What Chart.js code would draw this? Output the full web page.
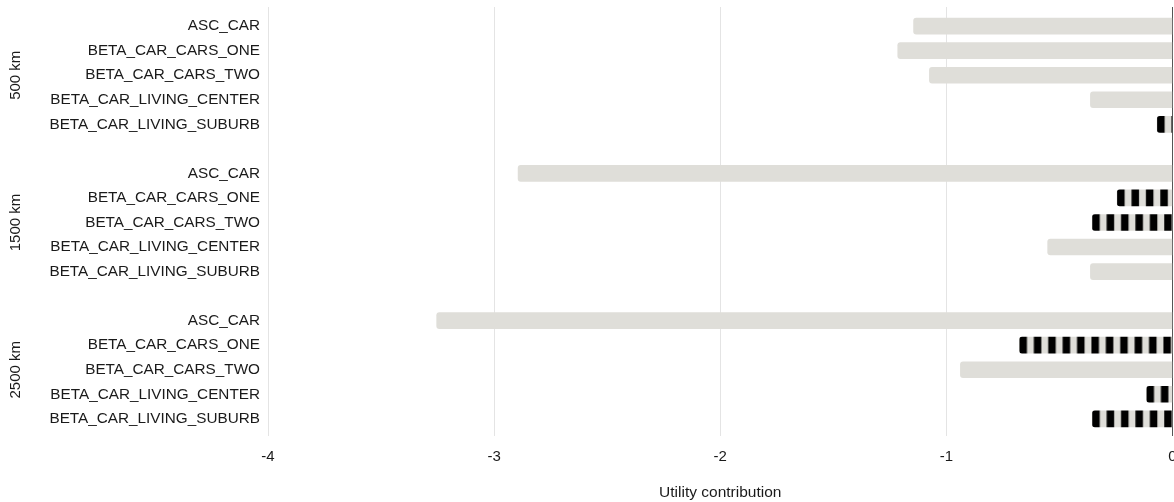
<!DOCTYPE html>
<html>
<head>
<meta charset="utf-8">
<script src="https://cdn.jsdelivr.net/npm/chart.js@4.4.1/dist/chart.umd.min.js"></script>
<style>
  html, body { margin: 0; padding: 0; background: #fff; overflow: hidden; }
  #wrap { width: 1174px; height: 502px; }
</style>
</head>
<body>
<div id="wrap"><canvas id="utilChart" width="1174" height="502"></canvas></div>
<script>
const groups = ['500 km', '1500 km', '2500 km'];
const parameters = ['ASC_CAR', 'BETA_CAR_CARS_ONE', 'BETA_CAR_CARS_TWO', 'BETA_CAR_LIVING_CENTER', 'BETA_CAR_LIVING_SUBURB'];
const contrib500 = [-1.145, -1.215, -1.075, -0.363, -0.068];
const contrib1500 = [-2.894, -0.245, -0.355, -0.552, -0.363];
const contrib2500 = [-3.254, -0.677, -0.938, -0.115, -0.355];
const hatched500 = [false, false, false, false, true];
const hatched1500 = [false, true, true, false, false];
const hatched2500 = [false, true, false, true, true];
const xTicks = [-4, -3, -2, -1, 0];

const barGray = '#dfded9';
const contribs = [contrib500, contrib1500, contrib2500];
const hatched = [hatched500, hatched1500, hatched2500];
const rowsPerGroup = parameters.length + 1; // one empty row between groups

const points = [];
const pointHatched = [];
const rowLabels = {};
contribs.forEach((vals, g) => {
    vals.forEach((v, i) => {
        const row = g * rowsPerGroup + i;
        points.push({ x: v, y: row });
        pointHatched.push(hatched[g][i]);
        rowLabels[row] = parameters[i];
    });
});
const lastRow = (groups.length - 1) * rowsPerGroup + parameters.length - 1;

// black stripes, started at the left end of each bar
const patternCache = {};
function stripes(chart, value) {
    const left = chart.scales.x.getPixelForValue(value);
    const key = left.toFixed(2);
    if (patternCache[key]) return patternCache[key];
    const pc = document.createElement('canvas');
    pc.width = 72;
    pc.height = 4;
    const p = pc.getContext('2d');
    p.fillStyle = barGray;
    p.fillRect(0, 0, 72, 4);
    p.fillStyle = '#000';
    for (let k = 0; k < 5; k++) p.fillRect(k * 14.4, 0, 7.5, 4);
    const pat = chart.ctx.createPattern(pc, 'repeat');
    pat.setTransform(new DOMMatrix().translateSelf(left, 0));
    patternCache[key] = pat;
    return pat;
}

const groupLabels = {
    id: 'groupLabels',
    afterDraw(chart) {
        const y = chart.scales.y;
        const ctx = chart.ctx;
        ctx.save();
        ctx.font = '15px "Liberation Sans", Arial, sans-serif';
        ctx.fillStyle = '#1a1a1a';
        ctx.textAlign = 'center';
        ctx.textBaseline = 'middle';
        groups.forEach((name, g) => {
            const mid = y.getPixelForValue(g * rowsPerGroup + (parameters.length - 1) / 2);
            ctx.save();
            ctx.translate(16, mid);
            ctx.rotate(-Math.PI / 2);
            ctx.fillText(name, 0, 0);
            ctx.restore();
        });
        ctx.restore();
    }
};

Chart.defaults.font.family = '"Liberation Sans", Arial, Helvetica, sans-serif';
Chart.defaults.color = '#1a1a1a';

const ctx = document.getElementById('utilChart').getContext('2d');
const utilChart = new Chart(ctx, {
    type: 'bar',
    data: {
        datasets: [{
            data: points,
            backgroundColor: c => (c.type === 'data' && pointHatched[c.dataIndex]) ? stripes(c.chart, c.raw.x) : barGray,
            borderWidth: 0,
            borderRadius: 3,
            barThickness: 16
        }]
    },
    options: {
        indexAxis: 'y',
        responsive: false,
        animation: false,
        layout: { padding: { top: 7, right: 1.5, left: 0, bottom: 0 } },
        plugins: {
            legend: { display: false },
            tooltip: { enabled: false }
        },
        scales: {
            x: {
                type: 'linear',
                min: xTicks[0],
                max: xTicks[xTicks.length - 1],
                z: 1,
                border: { display: false },
                grid: {
                    color: c => c.tick && c.tick.value === 0 ? '#555' : '#e4e4e4',
                    drawTicks: false
                },
                afterBuildTicks: s => { s.ticks = xTicks.map(v => ({ value: v })); },
                afterFit: s => { s.height = 66; s.paddingLeft = 0; s.paddingRight = 0; },
                ticks: { padding: 12, font: { size: 15 } },
                title: {
                    display: true,
                    text: 'Utility contribution',
                    font: { size: 15.5 },
                    padding: { top: 0, bottom: 0 }
                }
            },
            y: {
                type: 'linear',
                reverse: true,
                offset: false,
                min: -0.78,
                max: lastRow + 0.70,
                border: { display: false },
                grid: { display: false, drawTicks: false },
                afterBuildTicks: s => { s.ticks = Object.keys(rowLabels).map(r => ({ value: +r })); },
                afterFit: s => { s.width = 268; s.paddingTop = 0; s.paddingBottom = 0; },
                ticks: {
                    autoSkip: false,
                    padding: 8,
                    font: { size: 15.3 },
                    callback: v => rowLabels[v]
                }
            }
        }
    },
    plugins: [groupLabels]
});
</script>
</body>
</html>
